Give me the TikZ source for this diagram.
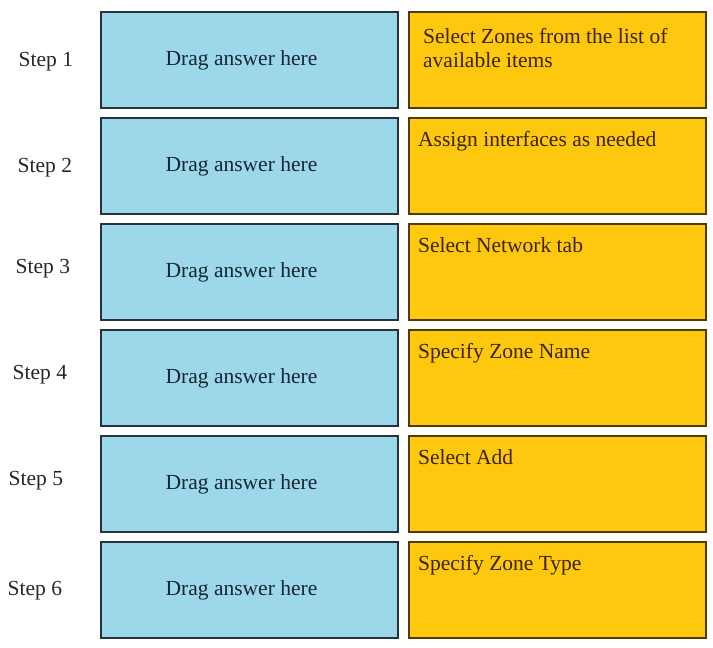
\documentclass[tikz,border=0pt]{standalone}
\usepackage{fontspec}
\setmainfont{Liberation Serif}
\usepackage{xcolor}
\usepackage{tikz}
\usetikzlibrary{positioning}

\definecolor{slotblue}{RGB}{157,216,234}
\definecolor{slotline}{RGB}{36,52,62}
\definecolor{tileorange}{RGB}{254,200,14}
\definecolor{tileline}{RGB}{80,60,8}
\definecolor{slottext}{RGB}{22,38,52}
\definecolor{tiletext}{RGB}{58,36,4}

\begin{document}
\begin{tikzpicture}[
    font=\fontsize{21.5}{24}\selectfont,
    slot/.style={rectangle, draw=slotline, line width=1.2pt, fill=slotblue, text=slottext, minimum width=297pt, minimum height=96pt, outer sep=0pt, inner sep=0pt},
    tile/.style={rectangle, draw=tileline, line width=1.2pt, fill=tileorange, minimum width=297pt, minimum height=96pt, outer sep=0pt, inner sep=0pt},
    tiletxt/.style={anchor=base west, inner sep=0pt, text=tiletext, align=left},
    steplbl/.style={inner sep=0pt, outer sep=0pt, text=black!85}
]
    \useasboundingbox (0,0) rectangle (713pt,-648pt);
    % drop slots
    \node[slot] (slot1) at (249.5pt,-60pt) {Drag answer here\hspace*{16pt}};
    \node[slot, below=10pt of slot1] (slot2) {Drag answer here\hspace*{16pt}};
    \node[slot, below=10pt of slot2] (slot3) {Drag answer here\hspace*{16pt}};
    \node[slot, below=10pt of slot3] (slot4) {Drag answer here\hspace*{16pt}};
    \node[slot, below=10pt of slot4] (slot5) {Drag answer here\hspace*{16pt}};
    \node[slot, below=10pt of slot5] (slot6) {Drag answer here\hspace*{16pt}};
    % answer tiles
    \node[tile, right=11pt of slot1] (tile1) {};
    \node[tile, right=11pt of slot2] (tile2) {};
    \node[tile, right=11pt of slot3] (tile3) {};
    \node[tile, right=11pt of slot4] (tile4) {};
    \node[tile, right=11pt of slot5] (tile5) {};
    \node[tile, right=11pt of slot6] (tile6) {};
    \node[tiletxt] (txt1) at ([shift={(14pt,-55pt)}]tile1.north west) {Select Zones from the list of\\available items};
    \node[tiletxt] (txt2) at ([shift={(9pt,-28pt)}]tile2.north west) {Assign interfaces as needed};
    \node[tiletxt] (txt3) at ([shift={(9pt,-28pt)}]tile3.north west) {Select Network tab};
    \node[tiletxt] (txt4) at ([shift={(9pt,-28pt)}]tile4.north west) {Specify Zone Name};
    \node[tiletxt] (txt5) at ([shift={(9pt,-28pt)}]tile5.north west) {Select Add};
    \node[tiletxt] (txt6) at ([shift={(9pt,-28pt)}]tile6.north west) {Specify Zone Type};
    % step labels
    \node[steplbl, left=28pt of slot1, yshift=-2pt] (step1) {Step 1};
    \node[steplbl, left=29pt of slot2, yshift=-2pt] (step2) {Step 2};
    \node[steplbl, left=31pt of slot3, yshift=3pt] (step3) {Step 3};
    \node[steplbl, left=34pt of slot4, yshift=3pt] (step4) {Step 4};
    \node[steplbl, left=38pt of slot5, yshift=3pt] (step5) {Step 5};
    \node[steplbl, left=39pt of slot6, yshift=-1pt] (step6) {Step 6};
\end{tikzpicture}
\end{document}
